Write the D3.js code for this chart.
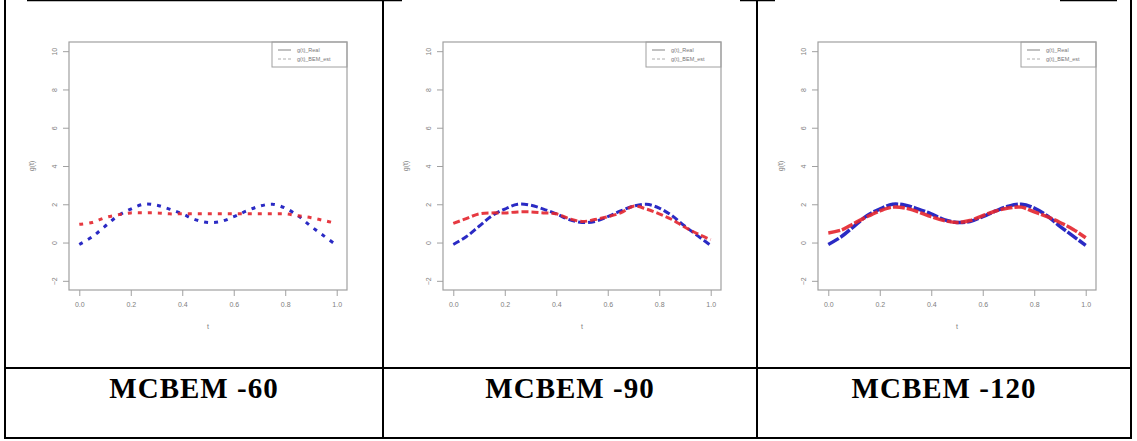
<!DOCTYPE html>
<html>
<head>
<meta charset="utf-8">
<script src="https://cdn.jsdelivr.net/npm/d3@7"></script>
<style>
  body { margin: 0; background: #fff; }
  svg { display: block; }
</style>
</head>
<body>
<svg></svg>
<script>
let width = 1137;
let height = 441;

// data
const tValues = [0, 0.05, 0.1, 0.15, 0.2, 0.25, 0.3, 0.35, 0.4, 0.45, 0.5,
                 0.55, 0.6, 0.65, 0.7, 0.75, 0.8, 0.85, 0.9, 0.95, 1];
const gReal = [-0.1, 0.3, 0.85, 1.4, 1.75, 2.0, 1.95, 1.75, 1.5, 1.2, 1.05,
               1.1, 1.35, 1.65, 1.9, 2.0, 1.8, 1.4, 0.85, 0.35, -0.15];
const gEst60 = [0.95, 1.05, 1.3, 1.45, 1.55, 1.55, 1.55, 1.5, 1.5, 1.5, 1.5,
                1.5, 1.5, 1.5, 1.5, 1.5, 1.5, 1.4, 1.3, 1.15, 1.0];
const gEst90 = [1.0, 1.25, 1.5, 1.55, 1.55, 1.6, 1.6, 1.55, 1.5, 1.25, 1.1,
                1.2, 1.35, 1.55, 1.9, 1.75, 1.5, 1.2, 0.8, 0.45, 0.15];
const gEst120 = [0.5, 0.65, 1.0, 1.35, 1.65, 1.85, 1.8, 1.6, 1.35, 1.15, 1.05,
                 1.15, 1.4, 1.65, 1.8, 1.85, 1.6, 1.35, 1.05, 0.7, 0.25];
const xTicks = [0, 0.2, 0.4, 0.6, 0.8, 1.0];
const yTicks = [-2, 0, 2, 4, 6, 8, 10];
const legendLabels = ['g(t)_Real', 'g(t)_BEM_est'];
const captions = ['MCBEM -60', 'MCBEM -90', 'MCBEM -120'];

const estimates = [gEst60, gEst90, gEst120];

// layout
const boxLefts = [69, 443, 818];
const boxW = 278;
const boxTop = 42;
const boxBottom = 290;
const dashes = ['4,6', '7,3', '12,2'];
const widths = [3, 3, 3.5];
const cellEdges = [5, 383, 757, 1131];

let svg = d3.select('svg')
            .attr('width', width)
            .attr('height', height);

let blur = svg.append('defs')
  .append('filter')
    .attr('id', 'soft');
blur.append('feGaussianBlur').attr('stdDeviation', 0.6);

const axisGray = '#a0a0a0';
const textGray = '#7e7e7e';

captions.forEach((caption, i) => {
  let left = boxLefts[i];
  let x = d3.scaleLinear()
            .domain([-0.04, 1.04])
            .range([left, left + boxW]);
  let y = d3.scaleLinear()
            .domain([-2.48, 10.48])
            .range([boxBottom, boxTop]);

  let g = svg.append('g').classed('panel', true);

  // plot box
  g.append('rect')
    .attr('x', left)
    .attr('y', boxTop)
    .attr('width', boxW)
    .attr('height', boxBottom - boxTop)
    .attr('fill', 'none')
    .attr('stroke', axisGray)
    .attr('stroke-width', 1.2);

  let xAxis = g.append('g')
    .attr('transform', `translate(0, ${boxBottom})`)
    .call(d3.axisBottom(x).tickValues(xTicks).tickFormat(d3.format('.1f')).tickSize(6).tickPadding(6));

  let yAxis = g.append('g')
    .attr('transform', `translate(${left}, 0)`)
    .call(d3.axisLeft(y).tickValues(yTicks).tickFormat(d3.format('d')).tickSize(6));

  [xAxis, yAxis].forEach(ax => {
    ax.select('.domain').remove();
    ax.selectAll('line').attr('stroke', axisGray);
    ax.selectAll('text')
      .attr('fill', textGray)
      .style('font-family', 'Liberation Sans, Arial, sans-serif')
      .style('font-size', '7px');
  });

  yAxis.selectAll('text')
    .attr('x', null)
    .attr('dy', '0.35em')
    .attr('text-anchor', 'middle')
    .attr('transform', 'translate(-14.5, 0) rotate(-90)');

  // axis titles
  g.append('text')
    .attr('x', left + boxW / 2)
    .attr('y', 329)
    .attr('text-anchor', 'middle')
    .attr('fill', textGray)
    .style('font-family', 'Liberation Sans, Arial, sans-serif')
    .style('font-size', '7px')
    .text('t');

  g.append('text')
    .attr('transform', `translate(${left - 35}, ${(boxTop + boxBottom) / 2}) rotate(-90)`)
    .attr('text-anchor', 'middle')
    .attr('fill', textGray)
    .style('font-family', 'Liberation Sans, Arial, sans-serif')
    .style('font-size', '7px')
    .text('g(t)');

  // curves
  let line = d3.line()
               .x((d, k) => x(tValues[k]))
               .y(d => y(d))
               .curve(d3.curveCatmullRom);

  let curves = g.append('g').attr('filter', 'url(#soft)');

  curves.append('path')
    .datum(gReal)
    .attr('d', line)
    .attr('fill', 'none')
    .attr('stroke', '#2b2bc4')
    .attr('stroke-width', widths[i])
    .attr('stroke-dasharray', dashes[i]);

  curves.append('path')
    .datum(estimates[i])
    .attr('d', line)
    .attr('fill', 'none')
    .attr('stroke', '#e3262e')
    .attr('stroke-opacity', 0.9)
    .attr('stroke-width', widths[i])
    .attr('stroke-dasharray', dashes[i]);

  // legend
  let lx = left + boxW - 75;
  let legend = g.append('g');
  legend.append('rect')
    .attr('x', lx)
    .attr('y', boxTop)
    .attr('width', 75)
    .attr('height', 25)
    .attr('fill', 'none')
    .attr('stroke', axisGray)
    .attr('stroke-width', 1);

  legend.selectAll('.lg-line')
    .data(legendLabels)
    .enter()
    .append('line')
      .classed('lg-line', true)
      .attr('x1', lx + 6)
      .attr('x2', lx + 19)
      .attr('y1', (d, k) => boxTop + 8 + k * 9)
      .attr('y2', (d, k) => boxTop + 8 + k * 9)
      .attr('stroke', (d, k) => k === 0 ? '#666' : '#999')
      .attr('stroke-width', 0.8)
      .attr('stroke-dasharray', (d, k) => k === 0 ? null : '3,2');

  legend.selectAll('.lg-text')
    .data(legendLabels)
    .enter()
    .append('text')
      .classed('lg-text', true)
      .attr('x', lx + 25)
      .attr('y', (d, k) => boxTop + 10 + k * 9)
      .attr('fill', '#777')
      .style('font-family', 'Liberation Sans, Arial, sans-serif')
      .style('font-size', '5.5px')
      .text(d => d);

  // caption
  svg.append('text')
    .attr('x', (cellEdges[i] + cellEdges[i + 1]) / 2)
    .attr('y', 398)
    .attr('text-anchor', 'middle')
    .style('font-family', 'Liberation Serif, Times New Roman, serif')
    .style('font-weight', 'bold')
    .style('font-size', '29px')
    .style('letter-spacing', '1px')
    .text(caption);
});

// table rules
let table = svg.append('g')
  .attr('stroke', '#000')
  .attr('stroke-width', 2);

cellEdges.forEach(cx => {
  table.append('line')
    .attr('x1', cx).attr('x2', cx)
    .attr('y1', 0).attr('y2', 439);
});

[368, 438].forEach(ry => {
  table.append('line')
    .attr('x1', cellEdges[0] - 1).attr('x2', cellEdges[3] + 1)
    .attr('y1', ry).attr('y2', ry);
});

[[27, 402], [740, 775], [1060, 1117]].forEach(seg => {
  table.append('line')
    .attr('x1', seg[0]).attr('x2', seg[1])
    .attr('y1', 0.5).attr('y2', 0.5)
    .attr('stroke-width', 1.5);
});
</script>
</body>
</html>
